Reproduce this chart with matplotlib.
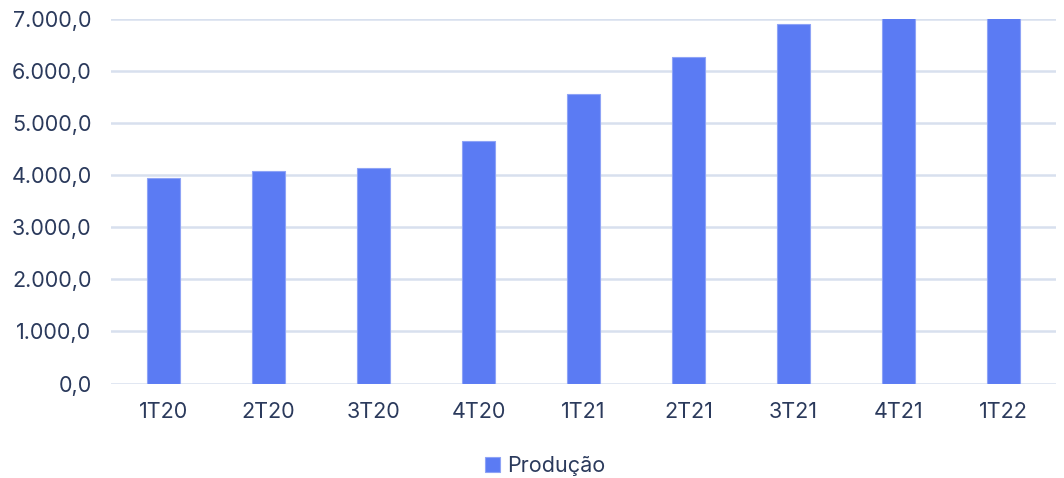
import matplotlib
matplotlib.use("Agg")
import matplotlib.pyplot as plt
from matplotlib.ticker import FuncFormatter

categories = ["1T20", "2T20", "3T20", "4T20", "1T21", "2T21", "3T21", "4T21", "1T22"]
producao = [3950, 4090, 4140, 4650, 5560, 6270, 6900, 7300, 7450]
yticks = [0, 1000, 2000, 3000, 4000, 5000, 6000, 7000]

plt.rcParams['font.family'] = ['Inter', 'DejaVu Sans']
text_color = '#2b3a5c'
bar_color = '#5b7bf3'
grid_color = '#d8e0ee'

fig = plt.figure(figsize=(10.64, 4.78), dpi=100)
ax = fig.add_axes([111/1064, 1 - 383.5/478, (1056-111)/1064, (383.5-19)/478])

x = list(range(len(categories)))
ax.bar(x, producao, width=0.315, color=bar_color, edgecolor='#8ea3f6', linewidth=0.8,
       label='Produção', zorder=3)
ax.set_ylim(0, 7000)
ax.set_xlim(-0.5, len(categories) - 0.5)
ax.set_yticks(yticks)

def fmt(v, pos):
    s = f"{v:,.1f}"
    return s.replace(",", "X").replace(".", ",").replace("X", ".")

ax.yaxis.set_major_formatter(FuncFormatter(fmt))
ax.set_xticks(x)
ax.set_xticklabels(categories)
ax.grid(axis='y', color=grid_color, linewidth=1.8, zorder=0)
for s in ax.spines.values():
    s.set_visible(False)
ax.tick_params(axis='both', length=0, labelsize=15.5, colors=text_color)
ax.tick_params(axis='y', pad=14)
ax.tick_params(axis='x', pad=13)

leg = fig.legend(loc='center', bbox_to_anchor=(545/1064, 1 - 466/478), frameon=False,
                 fontsize=15.5, handlelength=0.7, handleheight=0.7, handletextpad=0.3)
for t in leg.get_texts():
    t.set_color(text_color)

fig.savefig("out.png", dpi=100)
